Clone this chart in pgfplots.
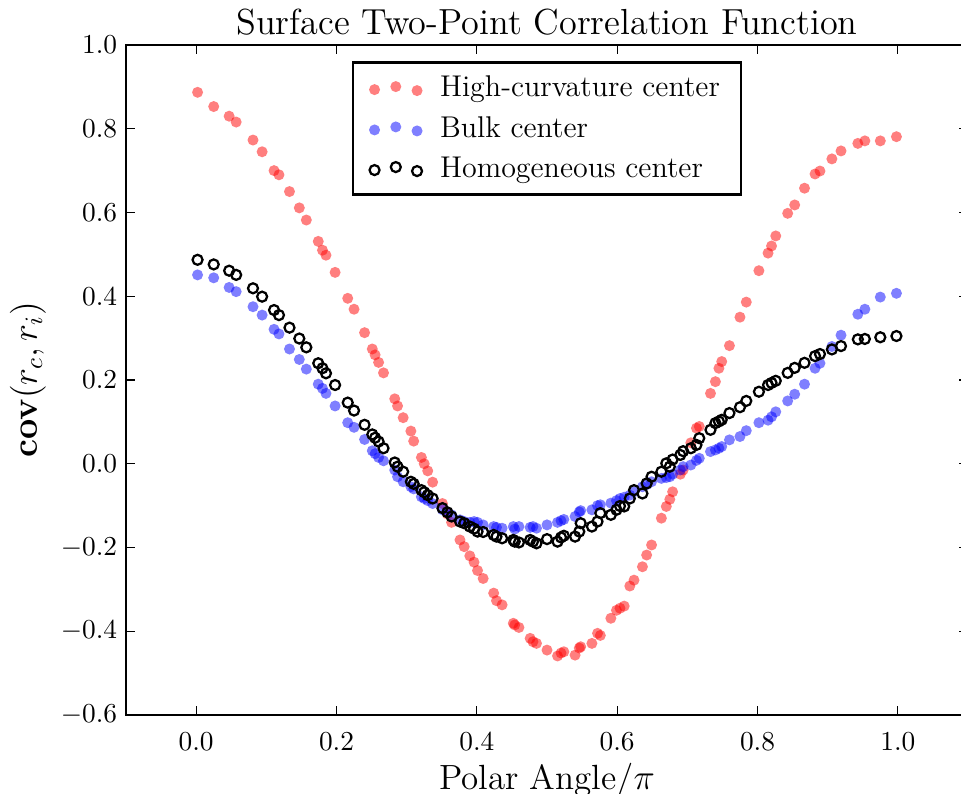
\documentclass[border=0pt]{standalone}
\usepackage{pgfplots}
\pgfplotsset{compat=1.18}
\usepackage{pgfplotstable}

% polar angle / pi, then high-curvature, bulk, homogeneous
\pgfplotstableread{
x      r       b       k
0.002  0.887   0.451   0.487
0.025  0.853   0.444   0.476
0.047  0.830   0.421   0.461
0.057  0.816   0.411   0.451
0.081  0.773   0.375   0.419
0.094  0.745   0.355   0.399
0.111  0.700   0.321   0.367
0.118  0.690   0.310   0.355
0.133  0.650   0.274   0.325
0.147  0.611   0.249   0.299
0.157  0.582   0.226   0.278
0.174  0.531   0.190   0.240
0.180  0.510   0.180   0.228
0.185  0.498   0.168   0.216
0.198  0.457   0.138   0.188
0.216  0.395   0.098   0.146
0.225  0.369   0.087   0.127
0.240  0.313   0.058   0.093
0.251  0.274   0.031   0.070
0.255  0.260   0.024   0.062
0.260  0.242   0.015   0.053
0.267  0.217   0.007   0.037
0.283  0.155  -0.015   0.003
0.287  0.138  -0.031  -0.007
0.295  0.110  -0.043  -0.019
0.306  0.078  -0.055  -0.043
0.310  0.054  -0.060  -0.048
0.321  0.015  -0.079  -0.063
0.325  0.000  -0.083  -0.068
0.330 -0.017  -0.088  -0.075
0.337 -0.044  -0.095  -0.083
0.351 -0.095  -0.110  -0.106
0.358 -0.120  -0.116  -0.116
0.364 -0.140  -0.122  -0.126
0.376 -0.182  -0.134  -0.138
0.382 -0.198  -0.138  -0.142
0.390 -0.220  -0.140  -0.150
0.396 -0.235  -0.138  -0.155
0.401 -0.255  -0.140  -0.162
0.409 -0.274  -0.146  -0.163
0.424 -0.309  -0.150  -0.170
0.428 -0.327  -0.152  -0.174
0.436 -0.337  -0.154  -0.178
0.452 -0.381  -0.150  -0.182
0.454 -0.385  -0.156  -0.186
0.460 -0.391  -0.150  -0.188
0.476 -0.417  -0.152  -0.182
0.480 -0.425  -0.150  -0.186
0.485 -0.429  -0.154  -0.190
0.500 -0.445  -0.146  -0.180
0.515 -0.459  -0.140  -0.186
0.520 -0.452  -0.136  -0.176
0.524 -0.449  -0.133  -0.172
0.540 -0.457  -0.126  -0.174
0.546 -0.440  -0.115  -0.162
0.548 -0.437  -0.112  -0.142
0.564 -0.429  -0.110  -0.150
0.572 -0.405  -0.100  -0.138
0.576 -0.410  -0.098  -0.118
0.591 -0.369  -0.094  -0.122
0.599 -0.350  -0.088  -0.110
0.604 -0.345  -0.083  -0.101
0.610 -0.340  -0.080  -0.102
0.618 -0.292  -0.075  -0.083
0.624 -0.278  -0.067  -0.063
0.636 -0.246  -0.055  -0.071
0.642 -0.218  -0.050  -0.047
0.649 -0.194  -0.043  -0.031
0.663 -0.130  -0.035  -0.019
0.670 -0.102  -0.033   0.001
0.675 -0.085  -0.031  -0.007
0.679 -0.067  -0.025   0.010
0.690 -0.025  -0.015   0.021
0.694 -0.015  -0.007   0.030
0.705  0.050  -0.003   0.037
0.713  0.085   0.008   0.045
0.717  0.089   0.013   0.061
0.733  0.168   0.029   0.081
0.740  0.196   0.033   0.097
0.745  0.228   0.037   0.101
0.749  0.244   0.041   0.105
0.760  0.282   0.057   0.121
0.775  0.350   0.065   0.135
0.784  0.386   0.079   0.150
0.802  0.461   0.098   0.172
0.815  0.503   0.104   0.188
0.820  0.520   0.112   0.193
0.826  0.544   0.124   0.198
0.843  0.598   0.150   0.217
0.853  0.618   0.166   0.229
0.867  0.658   0.190   0.241
0.882  0.692   0.228   0.257
0.889  0.699   0.240   0.262
0.906  0.728   0.280   0.273
0.919  0.747   0.307   0.281
0.943  0.765   0.357   0.297
0.953  0.771   0.369   0.298
0.975  0.771   0.398   0.302
0.998  0.781   0.407   0.305
}\corr

\pgfplotsset{
  three marks/.style={
    legend image code/.code={
      \draw[##1] plot coordinates {(0pt,-0.5pt) (8.5pt,0.7pt) (17pt,-0.9pt)};
    }
  }
}

\begin{document}
\begin{tikzpicture}
\begin{axis}[
  scale only axis,
  width=336.8pt, height=268pt,
  xmin=-0.1, xmax=1.1, ymin=-0.6, ymax=1.0,
  xtick={0,0.2,0.4,0.6,0.8,1.0},
  ytick={-0.6,-0.4,-0.2,0,0.2,0.4,0.6,0.8,1.0},
  tick align=inside, major tick length=3.6pt,
  xtick pos=both, ytick pos=both,
  every tick/.style={black, line width=0.5pt},
  axis line style={line width=1pt},
  tick label style={font=\fontsize{10.6}{12}\selectfont},
  xticklabel style={yshift=-3.6pt},
  xticklabel={\pgfmathprintnumber[fixed, fixed zerofill, precision=1]{\tick}},
  yticklabel={\pgfmathprintnumber[fixed, fixed zerofill, precision=1]{\tick}},
  title={Surface Two-Point Correlation Function},
  every axis title shift=0pt,
  title style={font=\fontsize{14.5}{17}\selectfont, at={(0.5,1)}, anchor=base, yshift=4pt},
  xlabel={Polar Angle/$\pi$},
  xlabel style={font=\fontsize{14}{17}\selectfont, at={(rel axis cs:0.5,0)}, anchor=base, yshift=-29.6pt},
  ylabel={$\mathbf{cov}(r_c, r_i)$},
  ylabel style={font=\fontsize{14}{17}\selectfont, at={(rel axis cs:0,0.5)}, anchor=base, yshift=35.7pt},
  legend cell align=left,
  legend style={at={(0.5,0.976)}, anchor=north, draw=black, line width=1pt,
    font=\fontsize{12}{14.5}\selectfont, row sep=2.3pt, column sep=5pt,
    inner xsep=6.5pt, inner ysep=3.5pt},
]
\addplot[only marks, mark=*, mark size=2.2pt,
  mark options={draw opacity=0, fill=red, fill opacity=0.5}, three marks]
  table[x=x, y=r] {\corr};
\addlegendentry{High-curvature center}
\addplot[only marks, mark=*, mark size=2.2pt,
  mark options={draw opacity=0, fill=blue, fill opacity=0.5}, three marks]
  table[x=x, y=b] {\corr};
\addlegendentry{Bulk center}
\addplot[only marks, mark=o, mark size=2pt,
  mark options={draw=black, line width=0.9pt}, three marks]
  table[x=x, y=k] {\corr};
\addlegendentry{Homogeneous center}
\end{axis}
\pgfresetboundingbox
\path ([shift={(-50.4pt,-31.6pt)}]current axis.south west)
  rectangle ([shift={(-2.8pt,18pt)}]current axis.north east);
\end{tikzpicture}
\end{document}
